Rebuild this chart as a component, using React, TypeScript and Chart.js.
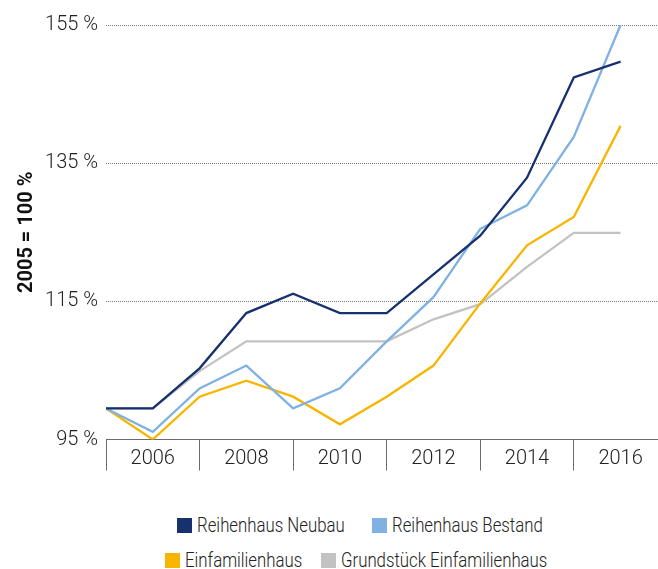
import React, { useEffect, useRef } from "react";
import { Chart, registerables } from "chart.js";

Chart.register(...registerables);

const YEARS = [2005, 2006, 2007, 2008, 2009, 2010, 2011, 2012, 2013, 2014, 2015, 2016];
const REIHENHAUS_NEUBAU = [99.5, 99.5, 105.3, 113.3, 116.1, 113.3, 113.3, 118.9, 124.5, 132.9, 147.4, 149.7];
const REIHENHAUS_BESTAND = [99.5, 96.1, 102.4, 105.7, 99.5, 102.4, 109.2, 115.6, 125.5, 128.9, 138.8, 155.0];
const EINFAMILIENHAUS = [99.5, 95.0, 101.2, 103.5, 101.2, 97.2, 101.2, 105.7, 114.7, 123.1, 127.2, 140.4];
const GRUNDSTUECK = [99.5, 99.5, 104.9, 109.2, 109.2, 109.2, 109.2, 112.4, 114.6, 120.0, 124.9, 124.9];
const Y_TICKS = [95, 115, 135, 155];
const SERIES_NAMES = ["Reihenhaus Neubau", "Reihenhaus Bestand", "Einfamilienhaus", "Grundstück Einfamilienhaus"];
const COLORS = ["#17316e", "#7fb2e3", "#f8b500", "#c2c2c2"];
const Y_TITLE = "2005 = 100 %";

const FONT = "'Roboto', 'Liberation Sans', sans-serif";

// legend layout (left edge of each swatch, row index)
const LEGEND_LAYOUT = [
  { left: 177, row: 0 },
  { left: 372, row: 0 },
  { left: 165, row: 1 },
  { left: 321, row: 1 },
];

export default function App() {
  const ref = useRef<HTMLCanvasElement | null>(null);

  useEffect(() => {
    if (!ref.current) return;
    const seriesData = [REIHENHAUS_NEUBAU, REIHENHAUS_BESTAND, EINFAMILIENHAUS, GRUNDSTUECK];
    const chart = new Chart(ref.current, {
      type: "line",
      data: {
        datasets: seriesData.map((vals, i) => ({
          label: SERIES_NAMES[i],
          data: vals.map((v, j) => ({ x: YEARS[j], y: v })),
          borderColor: COLORS[i],
          backgroundColor: COLORS[i],
          borderWidth: 2.3,
          pointRadius: 0,
          tension: 0,
          fill: false,
        })),
      },
      options: {
        animation: false,
        responsive: false,
        maintainAspectRatio: false,
        layout: { padding: { top: 25, left: 0, right: 0, bottom: 0 } },
        plugins: { legend: { display: false }, tooltip: { enabled: false } },
        scales: {
          x: {
            type: "linear",
            min: 2005,
            max: 2016.8,
            afterBuildTicks: (s: any) => {
              s.ticks = YEARS.map((v) => ({ value: v }));
            },
            afterFit: (s: any) => {
              s.height = 50.5;
            },
            border: { display: true, color: "#6b6b6b", width: 1 },
            grid: {
              drawOnChartArea: false,
              drawTicks: true,
              tickLength: 31,
              lineWidth: 1,
              color: (ctx: any) => (ctx.tick && ctx.tick.value % 2 === 1 ? "#6b6b6b" : "rgba(0,0,0,0)"),
              tickColor: (ctx: any) => (ctx.tick && ctx.tick.value % 2 === 1 ? "#6b6b6b" : "rgba(0,0,0,0)"),
            },
            ticks: {
              autoSkip: false,
              maxRotation: 0,
              padding: -24,
              color: "#222",
              font: { family: FONT, size: 20, weight: 300 },
              callback: (v: any) => (Number(v) % 2 === 0 ? String(v) : ""),
            },
          },
          y: {
            min: 95,
            max: 155,
            afterBuildTicks: (s: any) => {
              s.ticks = Y_TICKS.map((v) => ({ value: v }));
            },
            afterFit: (s: any) => {
              s.width = 106;
            },
            border: { display: false, dash: [1, 1] },
            grid: {
              drawTicks: false,
              color: "#7a7a7a",
              lineWidth: 1,
            },
            ticks: {
              padding: 8,
              color: "#222",
              font: { family: FONT, size: 20, weight: 300 },
              callback: (v: any) => `${v} %`,
            },
            title: {
              display: true,
              text: Y_TITLE,
              color: "#111",
              font: { family: FONT, size: 20, weight: "bold" },
              padding: { top: 15, bottom: 0 },
            },
          },
        },
      },
    });
    return () => chart.destroy();
  }, []);

  return (
    <div style={{ position: "absolute", left: 0, top: 0, width: 658, height: 569, background: "#fff" }}>
      <canvas ref={ref} width={658} height={490} style={{ display: "block", width: 658, height: 490 }} />
      {SERIES_NAMES.map((name, i) => {
        const pos = LEGEND_LAYOUT[i];
        return (
          <div
            key={i}
            style={{
              position: "absolute",
              left: pos.left,
              top: 513 + pos.row * 35,
              height: 24,
              display: "flex",
              alignItems: "center",
              whiteSpace: "nowrap",
              fontFamily: FONT,
              fontSize: 20,
              fontWeight: 300,
              lineHeight: "24px",
              color: "#222",
            }}
          >
            <span style={{ width: 15, height: 15, background: COLORS[i], display: "inline-block", marginRight: 5, flex: "none" }} />
            <span style={{ display: "inline-block", transform: "scaleX(0.84)", transformOrigin: "left center" }}>{name}</span>
          </div>
        );
      })}
    </div>
  );
}
